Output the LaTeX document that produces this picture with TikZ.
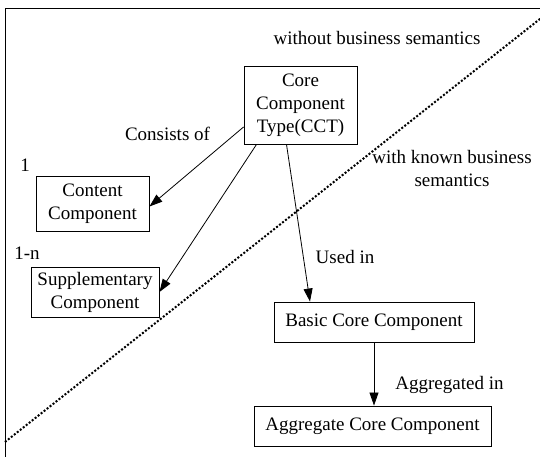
\documentclass[tikz,border=0pt]{standalone}
\usepackage{fontspec}
\setmainfont{Liberation Serif}
\usetikzlibrary{arrows.meta}
\begin{document}
\begin{tikzpicture}[x=1pt,y=-1pt,font=\fontsize{19}{23}\selectfont,
  ccbox/.style={draw,line width=.9pt,align=center,inner sep=2pt},
  link/.style={line width=.8pt,-{Triangle[length=13pt,width=9pt]}}]
\useasboundingbox (0,0) rectangle (540,457);
\draw[line width=.9pt] (5,470) |- (560,8);
\draw[line width=2pt,dash pattern=on 2pt off 1.8pt] (5,442) -- (550,11);
\node[ccbox,minimum width=113pt,minimum height=78pt] (cct) at (300.5,105) {Core\\Component\\Type(CCT)};
\node[ccbox,minimum width=113pt,minimum height=55pt] (content) at (92.5,203.5) {Content\\Component};
\node[ccbox,minimum width=128pt,minimum height=50pt] (supp) at (95,292) {Supplementary\\Component};
\node[ccbox,minimum width=200pt,minimum height=40pt] (basic) at (374,322) {Basic Core Component};
\node[ccbox,minimum width=237pt,minimum height=40pt] (aggr) at (372.5,426) {Aggregate Core Component};
\draw[link] ([yshift=-22pt]cct.west) -- ([yshift=-3pt]content.east);
\draw[link] ([xshift=-44pt]cct.south) -- (supp.east);
\draw[link] ([xshift=-14pt]cct.south) -- ([xshift=-64pt]basic.north);
\draw[link] (basic.south) -- (basic.south |- aggr.north);
\node (nosem) at (377,38) {without business semantics};
\node (withsem) at (452,169) [align=center] {with known business\\semantics};
\node (consists) at (167.5,134) {Consists of};
\node (one) at (25,165) {1};
\node (onen) at (27,253) {1-n};
\node (usedin) at (345,257) {Used in};
\node (aggrin) at (449.5,385) {Aggregated in};
\end{tikzpicture}
\end{document}
